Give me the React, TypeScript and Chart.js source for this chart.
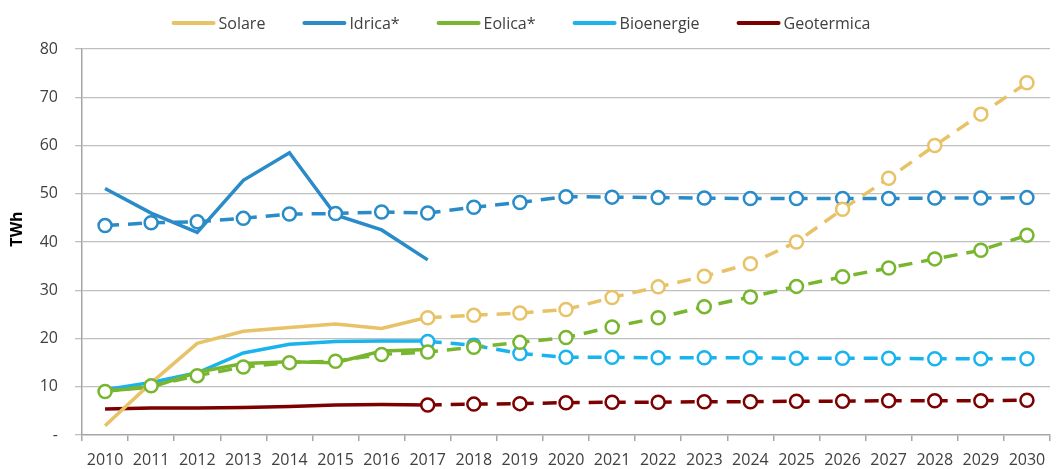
import React, { useEffect, useRef } from "react";
import { Chart, registerables } from "chart.js";

Chart.register(...registerables);

const anni = ["2010","2011","2012","2013","2014","2015","2016","2017","2018","2019","2020","2021","2022","2023","2024","2025","2026","2027","2028","2029","2030"];

const serie = ["Solare", "Idrica*", "Eolica*", "Bioenergie", "Geotermica"];
const colori = ["#E8C266", "#2A8BC9", "#78B62F", "#19B3EE", "#7C0000"];

// Dati storici 2010-2017
const solareStorico = [1.9, 10.8, 19.0, 21.5, 22.3, 23.0, 22.1, 24.4];
const idricaStorico = [51.1, 46.0, 42.0, 52.8, 58.5, 45.6, 42.5, 36.3];
const eolicaStorico = [9.1, 9.9, 13.0, 14.8, 15.2, 15.0, 17.4, 17.7];
const bioStorico = [9.4, 10.9, 12.9, 17.0, 18.8, 19.4, 19.5, 19.5];
const geoStorico = [5.4, 5.6, 5.6, 5.7, 5.9, 6.2, 6.3, 6.2];

// Scenario (tratteggiato)
const solareScenario = [null, null, null, null, null, null, null, 24.3, 24.8, 25.3, 26.0, 28.5, 30.7, 32.9, 35.5, 40.0, 46.8, 53.2, 60.0, 66.5, 73.0];
const idricaScenario = [43.4, 44.0, 44.2, 44.9, 45.8, 45.9, 46.2, 46.0, 47.2, 48.2, 49.4, 49.3, 49.2, 49.1, 49.0, 49.0, 49.0, 49.0, 49.1, 49.1, 49.2];
const eolicaScenario = [9.0, 10.2, 12.3, 14.1, 15.0, 15.3, 16.7, 17.2, 18.2, 19.2, 20.2, 22.4, 24.3, 26.6, 28.6, 30.8, 32.8, 34.6, 36.5, 38.3, 41.4];
const bioScenario = [null, null, null, null, null, null, null, 19.4, 18.6, 16.9, 16.1, 16.1, 16.0, 16.0, 16.0, 15.9, 15.9, 15.9, 15.8, 15.8, 15.8];
const geoScenario = [null, null, null, null, null, null, null, 6.2, 6.4, 6.5, 6.7, 6.8, 6.8, 6.9, 6.9, 7.0, 7.0, 7.1, 7.1, 7.1, 7.2];

const yTicks = [0, 10, 20, 30, 40, 50, 60, 70, 80];
const yTitle = "TWh";

const FONT = '"Open Sans", "DejaVu Sans", sans-serif';

const legendPlugin = {
  id: "customLegend",
  afterDraw(chart: any) {
    const ctx = chart.ctx;
    ctx.save();
    ctx.font = `16px ${FONT}`;
    const sample = 44;
    const gapText = 3;
    const gapItem = 37;
    const widths = serie.map((s) => sample + gapText + ctx.measureText(s).width);
    const total = widths.reduce((a, b) => a + b, 0) + gapItem * (serie.length - 1);
    let x = 521 - total / 2;
    const y = 23;
    serie.forEach((s, i) => {
      ctx.strokeStyle = colori[i];
      ctx.lineWidth = 4;
      ctx.lineCap = "round";
      ctx.beginPath();
      ctx.moveTo(x + 2, y);
      ctx.lineTo(x + sample - 2, y);
      ctx.stroke();
      ctx.fillStyle = "#404040";
      ctx.textBaseline = "middle";
      ctx.textAlign = "left";
      ctx.fillText(s, x + sample + gapText, y + 1);
      x += widths[i] + gapItem;
    });
    // Titolo asse Y
    ctx.translate(17, 229);
    ctx.rotate(-Math.PI / 2);
    ctx.font = `bold 16px ${FONT}`;
    ctx.fillStyle = "#000000";
    ctx.textAlign = "center";
    ctx.textBaseline = "middle";
    ctx.fillText(yTitle, 0, 0);
    ctx.restore();
  },
};

export default function App() {
  const ref = useRef<HTMLCanvasElement | null>(null);

  useEffect(() => {
    document.body.style.margin = "0";
    if (!ref.current) return;
    const storici = [solareStorico, idricaStorico, eolicaStorico, bioStorico, geoStorico];
    const scenari = [solareScenario, idricaScenario, eolicaScenario, bioScenario, geoScenario];
    const datasets: any[] = [];
    serie.forEach((s, i) => {
      datasets.push({
        label: s + " scenario",
        data: scenari[i],
        borderColor: colori[i],
        backgroundColor: "#FFFFFF",
        borderWidth: 3.5,
        borderDash: [14, 9],
        pointRadius: 6.5,
        pointBorderWidth: 2.5,
        pointBackgroundColor: "#FFFFFF",
        pointBorderColor: colori[i],
        tension: 0,
        spanGaps: false,
        order: 0,
      });
    });
    serie.forEach((s, i) => {
      datasets.push({
        label: s,
        data: storici[i],
        borderColor: colori[i],
        backgroundColor: colori[i],
        borderWidth: 3.5,
        pointRadius: 0,
        tension: 0,
        order: 1,
      });
    });

    const chart = new Chart(ref.current, {
      type: "line",
      data: { labels: anni, datasets },
      options: {
        animation: false,
        responsive: false,
        maintainAspectRatio: false,
        layout: { padding: { top: 49, right: 5, left: 0, bottom: 0 } },
        plugins: {
          legend: { display: false },
          tooltip: { enabled: false },
        },
        scales: {
          x: {
            type: "category",
            offset: true,
            grid: {
              display: true,
              offset: true,
              drawOnChartArea: false,
              drawTicks: true,
              tickLength: 6,
              color: "#A6A6A6",
              lineWidth: 1.5,
            },
            border: { display: true, color: "#A6A6A6", width: 1.5 },
            ticks: {
              color: "#404040",
              font: { family: FONT, size: 16 },
              padding: 10,
              maxRotation: 0,
              autoSkip: false,
            },
            afterFit(scale: any) {
              scale.height = 34;
            },
          },
          y: {
            min: 0,
            max: 80,
            afterBuildTicks(scale: any) {
              scale.ticks = yTicks.map((v) => ({ value: v }));
            },
            grid: {
              color: (c: any) => (c.tick && c.tick.value === 0 ? "rgba(0,0,0,0)" : "#BFBFBF"),
              lineWidth: 1.3,
              tickLength: 7,
              tickColor: "#BFBFBF",
              tickBorderDash: [6, 4],
            } as any,
            border: { display: true, color: "#A6A6A6", width: 1.5, dash: [] } as any,
            ticks: {
              color: "#404040",
              font: { family: FONT, size: 16 },
              padding: 17,
              callback: (v: any) => (Number(v) === 0 ? "-" : String(v)),
            },
            title: { display: false },
            afterFit(scale: any) {
              scale.width = 82;
            },
          },
        },
      },
      plugins: [legendPlugin],
    });
    return () => chart.destroy();
  }, []);

  return (
    <div style={{ width: 1059, height: 469 }}>
      <canvas ref={ref} width={1059} height={469} style={{ display: "block" }} />
    </div>
  );
}
